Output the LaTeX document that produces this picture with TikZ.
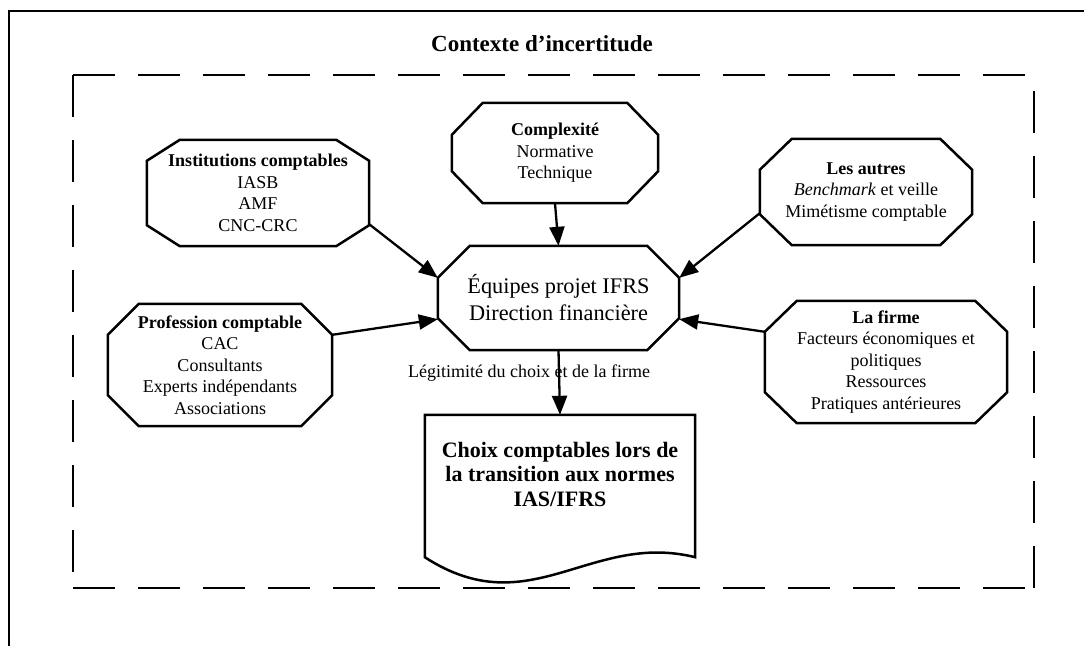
\documentclass[tikz,border=0pt]{standalone}
\usepackage{fontspec}
\setmainfont{Liberation Serif}
\usetikzlibrary{calc,arrows.meta}
\tikzset{
  octline/.style={line width=2.5pt, line join=miter},
  octtxt/.style={draw=none, inner sep=0pt, align=center, font=\fontsize{18}{21.5}\selectfont},
  conn/.style={line width=2.3pt, -{Triangle[length=19pt,width=15pt]}},
  dashline/.style={line width=2.2pt, dash pattern=on 42pt off 23pt},
}
\newcommand{\octa}[3]{%
  \draw[octline] ($(#1.north west)+(#2,0pt)$) -- ($(#1.north east)+(-#2,0pt)$)
    -- ($(#1.north east)+(0pt,-#3)$) -- ($(#1.south east)+(0pt,#3)$)
    -- ($(#1.south east)+(-#2,0pt)$) -- ($(#1.south west)+(#2,0pt)$)
    -- ($(#1.south west)+(0pt,#3)$) -- ($(#1.north west)+(0pt,-#3)$) -- cycle;}
\begin{document}
\begin{tikzpicture}[x=1pt,y=-1pt]
\useasboundingbox (0,0) rectangle (1084,646);
% outer frame (open at right and bottom)
\draw[line width=2.3pt] (9,646) -- (9,11) -- (1084,11);
% dashed context frame
\draw[dashline] (73,75) -- (1034,75);
\draw[dashline] (73,75) -- (73,588);
\draw[dashline] (73,588) -- (1034,588);
\draw[dashline] (1034,588) -- (1034,75);
% title
\node[font=\fontsize{23}{27}\selectfont\bfseries] (title) at (542,44) {Contexte d’incertitude};
% octagon nodes
\node[octtxt, minimum width=222pt, minimum height=106pt] (inst) at (258,193)
  {\textbf{Institutions comptables}\\IASB\\AMF\\CNC-CRC};
\octa{inst}{33pt}{21pt}
\node[octtxt, minimum width=206pt, minimum height=100pt] (comp) at (555,153)
  {\textbf{Complexité}\\Normative\\Technique};
\octa{comp}{31pt}{32pt}
\node[octtxt, minimum width=212pt, minimum height=106pt] (autr) at (866,192)
  {\textbf{Les autres}\\\textit{Benchmark} et veille\\Mimétisme comptable};
\octa{autr}{32pt}{31pt}
\node[octtxt, minimum width=224pt, minimum height=122pt] (prof) at (220,365)
  {\textbf{Profession comptable}\\CAC\\Consultants\\Experts indépendants\\Associations};
\octa{prof}{31pt}{31pt}
\node[octtxt, minimum width=242pt, minimum height=122pt] (firm) at (886,362)
  {\textbf{La firme}\\Facteurs économiques et\\politiques\\Ressources\\Pratiques antérieures};
\octa{firm}{32pt}{31pt}
\node[octtxt, font=\fontsize{22.3}{27}\selectfont, minimum width=241pt, minimum height=104pt] (equi) at (558.5,298)
  {Équipes projet IFRS\\Direction financière};
\octa{equi}{32pt}{32pt}
% document shape
\node[draw=none, inner sep=0pt, minimum width=270pt, minimum height=142pt] (doc) at (560,486) {};
\draw[octline] (doc.north west) -- (doc.north east) -- (doc.south east)
  .. controls ($(doc.south east)+(-105pt,26pt)$) and ($(doc.south west)+(105pt,-68pt)$) .. (doc.south west) -- cycle;
\node[align=center, font=\fontsize{22}{24.5}\selectfont\bfseries] (doctxt) at (560,474)
  {Choix comptables lors de\\la transition aux normes\\IAS/IFRS};
% label
\node[font=\fontsize{18}{21.5}\selectfont] (legit) at (529,373) {Légitimité du choix et de la firme};
% connectors
\draw[conn] ($(inst.south east)+(0pt,22pt)$) -- ($(equi.north west)+(0pt,-32pt)$);
\draw[conn] (comp.south) -- (equi.north);
\draw[conn] ($(autr.south west)+(0pt,32pt)$) -- ($(equi.north east)+(0pt,-32pt)$);
\draw[conn] ($(prof.north east)+(0pt,-31pt)$) -- ($(equi.south west)+(0pt,31pt)$);
\draw[conn] ($(firm.north west)+(0pt,-31pt)$) -- ($(equi.south east)+(0pt,31pt)$);
\draw[conn] (equi.south) -- (doc.north);
\end{tikzpicture}
\end{document}
